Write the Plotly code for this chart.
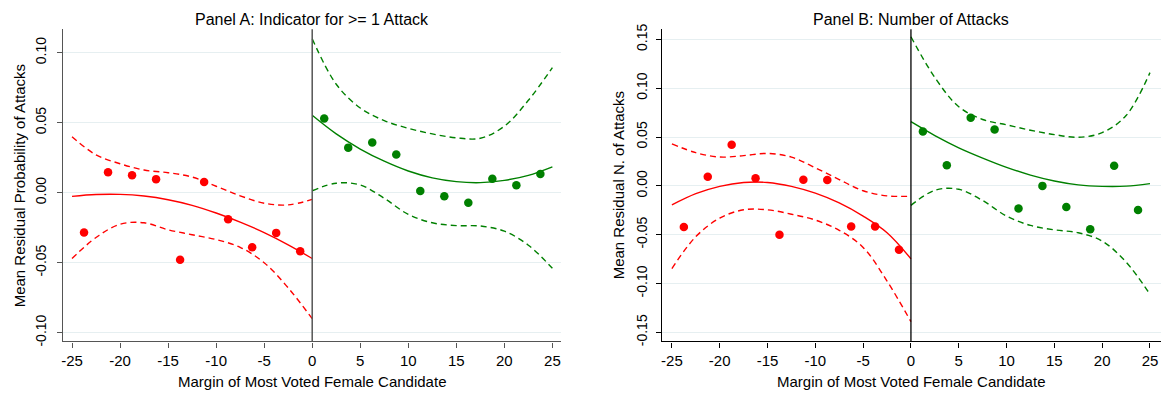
import plotly.graph_objects as go

# ---- binned means (2.5-point bins of the vote margin) ----
bins_left = [-23.75, -21.25, -18.75, -16.25, -13.75, -11.25, -8.75, -6.25, -3.75, -1.25]
bins_right = [1.25, 3.75, 6.25, 8.75, 11.25, 13.75, 16.25, 18.75, 21.25, 23.75]

a_left_means = [-0.0285, 0.0146, 0.0125, 0.0097, -0.0479, 0.0076, -0.0190, -0.0389, -0.0287, -0.0419]
a_right_means = [0.0530, 0.0322, 0.0359, 0.0273, 0.0012, -0.0026, -0.0072, 0.0099, 0.0053, 0.0134]

b_left_means = [-0.0422, 0.0093, 0.0421, 0.0077, -0.0500, 0.0063, 0.0060, -0.0415, -0.0415, -0.0654]
b_right_means = [0.0558, 0.0212, 0.0697, 0.0578, -0.0232, 0.0000, -0.0216, -0.0445, 0.0206, -0.0246]

# ---- fitted polynomial and 95% confidence band, evaluated on a grid ----
grid_left = [-25, -22.5, -20, -17.5, -15, -12.5, -10, -7.5, -5, -2.5, 0]
grid_right = [0, 2.5, 5, 7.5, 10, 12.5, 15, 17.5, 20, 22.5, 25]

a_left_fit = [-0.0026, -0.0013, -0.0012, -0.0024, -0.0050, -0.0090, -0.0145, -0.0210, -0.0285, -0.0372, -0.0470]
a_left_hi = [0.0400, 0.0270, 0.0207, 0.0162, 0.0143, 0.0112, 0.0046, -0.0022, -0.0075, -0.0087, -0.0048]
a_left_lo = [-0.0470, -0.0320, -0.0225, -0.0215, -0.0265, -0.0300, -0.0335, -0.0390, -0.0500, -0.0680, -0.0900]
a_right_fit = [0.0553, 0.0420, 0.0312, 0.0225, 0.0155, 0.0106, 0.0079, 0.0072, 0.0088, 0.0124, 0.0185]
a_right_hi = [0.1100, 0.0775, 0.0605, 0.0515, 0.0460, 0.0420, 0.0392, 0.0389, 0.0475, 0.0660, 0.0894]
a_right_lo = [0.0014, 0.0068, 0.0055, -0.0040, -0.0155, -0.0215, -0.0235, -0.0238, -0.0275, -0.0375, -0.0540]

b_left_fit = [-0.0195, -0.0080, -0.0005, 0.0035, 0.0035, -0.0005, -0.0075, -0.0175, -0.0310, -0.0480, -0.0747]
b_left_hi = [0.0431, 0.0340, 0.0295, 0.0310, 0.0332, 0.0295, 0.0185, 0.0065, -0.0050, -0.0102, -0.0106]
b_left_lo = [-0.0847, -0.0520, -0.0330, -0.0245, -0.0245, -0.0290, -0.0350, -0.0455, -0.0630, -0.0975, -0.1390]
b_right_fit = [0.0657, 0.0515, 0.0390, 0.0285, 0.0190, 0.0110, 0.0050, 0.0010, -0.0005, -0.0003, 0.0023]
b_right_hi = [0.1527, 0.1110, 0.0810, 0.0680, 0.0625, 0.0570, 0.0525, 0.0498, 0.0545, 0.0720, 0.1160]
b_right_lo = [-0.0200, -0.0045, -0.0035, -0.0150, -0.0310, -0.0405, -0.0450, -0.0480, -0.0565, -0.0780, -0.1110]

# ---- ticks (labels use a plain hyphen for negatives) ----
x_ticks = [-25, -20, -15, -10, -5, 0, 5, 10, 15, 20, 25]
x_tick_labels = ["-25", "-20", "-15", "-10", "-5", "0", "5", "10", "15", "20", "25"]
a_y_ticks = [-0.10, -0.05, 0.00, 0.05, 0.10]
a_y_tick_labels = ["-0.10", "-0.05", "0.00", "0.05", "0.10"]
b_y_ticks = [-0.15, -0.10, -0.05, 0.00, 0.05, 0.10, 0.15]
b_y_tick_labels = ["-0.15", "-0.10", "-0.05", "0.00", "0.05", "0.10", "0.15"]

panel_titles = ["Panel A: Indicator for >= 1 Attack", "Panel B: Number of Attacks"]
y_titles = ["Mean Residual Probability of Attacks", "Mean Residual N. of Attacks"]
x_title = "Margin of Most Voted Female Candidate"

RED = "#ff0000"
GREEN = "#008000"
FONT = "Liberation Sans, Arial, sans-serif"
W, H = 1163, 397

fig = go.Figure()


def add_panel(xa, ya, left_means, right_means, lf, lh, ll, rf, rh, rl):
    for gx, fit, hi, lo, col in ((grid_left, lf, lh, ll, RED), (grid_right, rf, rh, rl, GREEN)):
        fig.add_trace(go.Scatter(x=gx, y=fit, mode="lines", xaxis=xa, yaxis=ya,
                                 line=dict(color=col, width=1.4, shape="spline"),
                                 showlegend=False, hoverinfo="skip"))
        for band in (hi, lo):
            fig.add_trace(go.Scatter(x=gx, y=band, mode="lines", xaxis=xa, yaxis=ya,
                                     line=dict(color=col, width=1.4, shape="spline",
                                               dash="6px,4px"),
                                     showlegend=False, hoverinfo="skip"))
    fig.add_trace(go.Scatter(x=bins_left, y=left_means, mode="markers", xaxis=xa, yaxis=ya,
                             marker=dict(color=RED, size=8.5), showlegend=False))
    fig.add_trace(go.Scatter(x=bins_right, y=right_means, mode="markers", xaxis=xa, yaxis=ya,
                             marker=dict(color=GREEN, size=8.5), showlegend=False))


add_panel("x", "y", a_left_means, a_right_means,
          a_left_fit, a_left_hi, a_left_lo, a_right_fit, a_right_hi, a_right_lo)
add_panel("x2", "y2", b_left_means, b_right_means,
          b_left_fit, b_left_hi, b_left_lo, b_right_fit, b_right_hi, b_right_lo)

# plot-area geometry in pixels
top_px, bot_px = 24, 345
a_l, a_r = 61, 560
b_l, b_r = 661, 1160.5
ydom = [1 - bot_px / H, 1 - top_px / H]


def xaxis(dom, rng, col, anchor):
    return dict(domain=dom, range=rng, tickvals=x_ticks, ticktext=x_tick_labels,
                ticks="outside", ticklen=5, tickcolor=col, tickwidth=1.2, showline=True,
                linecolor=col, linewidth=1.3, showgrid=False, zeroline=False,
                tickfont=dict(family=FONT, size=15, color="#000000"), anchor=anchor,
                fixedrange=True)


def yaxis(rng, tv, tt, col, anchor, standoff):
    return dict(domain=ydom, range=rng, tickvals=tv, ticktext=tt, tickangle=-90,
                ticks="outside", ticklen=5, tickcolor=col, tickwidth=1.2, showline=True,
                linecolor=col, linewidth=1.3, showgrid=True, gridcolor="#e6eff1",
                gridwidth=1, zeroline=False, ticklabelstandoff=standoff,
                tickfont=dict(family=FONT, size=14, color="#000000"), anchor=anchor,
                fixedrange=True)


fig.update_layout(
    width=W, height=H,
    margin=dict(l=0, r=0, t=0, b=0),
    paper_bgcolor="white", plot_bgcolor="white",
    font=dict(family=FONT, color="#000000"),
    xaxis=xaxis([a_l / W, a_r / W], [-25.95, 25.9], "#555555", "y"),
    yaxis=yaxis([-0.10625, 0.1167], a_y_ticks, a_y_tick_labels, "#555555", "x", 5),
    xaxis2=xaxis([b_l / W, b_r / W], [-26.05, 26.1], "#000000", "y2"),
    yaxis2=yaxis([-0.1593, 0.1603], b_y_ticks, b_y_tick_labels, "#000000", "x2", 3),
)

# cutoff line at zero margin
fig.add_shape(type="line", x0=0, x1=0, y0=0, y1=1, xref="x", yref="y domain",
              line=dict(color="#555555", width=1.5))
fig.add_shape(type="line", x0=0, x1=0, y0=0, y1=1, xref="x2", yref="y2 domain",
              line=dict(color="#000000", width=1.3))

# titles
for (l, r), title, ytitle, yt_x in (((a_l, a_r), panel_titles[0], y_titles[0], 17),
                                     ((b_l, b_r), panel_titles[1], y_titles[1], 617)):
    cx = (l + r) / 2 / W
    fig.add_annotation(text=title, x=cx, y=1 - 14 / H, xref="paper", yref="paper",
                       showarrow=False, xanchor="center", yanchor="middle",
                       font=dict(family=FONT, size=16, color="#000000"))
    fig.add_annotation(text=x_title, x=cx, y=1 - 386 / H, xref="paper", yref="paper",
                       showarrow=False, xanchor="center", yanchor="middle",
                       font=dict(family=FONT, size=15, color="#000000"))
    fig.add_annotation(text=ytitle, x=yt_x / W, y=1 - ((top_px + bot_px) / 2) / H,
                       xref="paper", yref="paper", textangle=-90, showarrow=False,
                       xanchor="center", yanchor="middle",
                       font=dict(family=FONT, size=15, color="#000000"))

fig.write_html("out.html")
